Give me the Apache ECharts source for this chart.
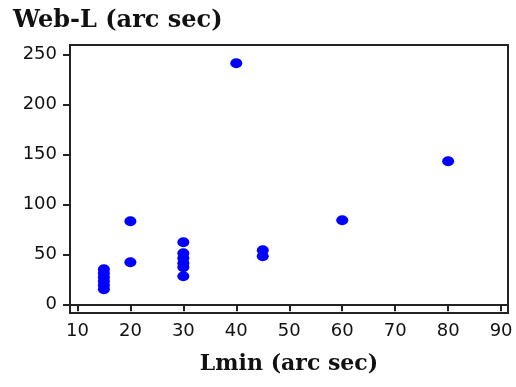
<!DOCTYPE html>
<html>
<head>
<meta charset="utf-8">
<script src="https://cdn.jsdelivr.net/npm/echarts@6/dist/echarts.min.js"></script>
<style>
html,body{margin:0;padding:0;background:#fff;}
#chart{width:516px;height:387px;}
</style>
</head>
<body>
<div id="chart"></div>
<script>
// Data
var lminValues = [15, 15, 15, 15, 15, 15, 20, 20, 30, 30, 30, 30, 30, 30, 40, 45, 45, 60, 80];
var webLValues = [35, 31, 27, 23, 19, 15, 83, 42, 62, 51, 46, 41, 37, 28, 241, 54, 48, 84, 143];
var xTicks = [10, 20, 30, 40, 50, 60, 70, 80, 90];
var yTicks = [0, 50, 100, 150, 200, 250];
var xTitle = 'Lmin (arc sec)';
var yTitle = 'Web-L (arc sec)';

var points = lminValues.map(function (x, i) { return [x, webLValues[i]]; });

var chart = echarts.init(document.getElementById('chart'), null, {renderer: 'canvas'});
chart.setOption({
  backgroundColor: '#ffffff',
  animation: false,
  title: {
    text: yTitle,
    left: 8,
    top: 4,
    textStyle: {fontFamily: 'DejaVu Serif', fontWeight: 'bold', fontSize: 24, color: '#111'}
  },
  grid: {
    left: 70, right: 8, top: 45, bottom: 74,
    show: true, borderColor: '#222', borderWidth: 2, backgroundColor: 'transparent'
  },
  xAxis: {
    type: 'value',
    min: 8.6, max: 91.3,
    name: xTitle,
    nameLocation: 'middle',
    nameGap: 40,
    nameTextStyle: {fontFamily: 'DejaVu Serif', fontWeight: 'bold', fontSize: 22, color: '#111'},
    axisLine: {show: true, lineStyle: {color: '#222', width: 2}},
    axisTick: {show: true, inside: false, length: 7, lineStyle: {color: '#222', width: 2}, customValues: xTicks},
    axisLabel: {margin: 9, fontFamily: 'DejaVu Sans', fontSize: 18, color: '#111', customValues: xTicks},
    splitLine: {show: false}
  },
  yAxis: {
    type: 'value',
    min: -8.7, max: 259.3,
    axisLine: {show: true, lineStyle: {color: '#222', width: 2}},
    axisTick: {show: true, inside: false, length: 7, lineStyle: {color: '#222', width: 2}, customValues: yTicks},
    axisLabel: {margin: 13, fontFamily: 'DejaVu Sans', fontSize: 18, color: '#111', customValues: yTicks},
    splitLine: {show: false}
  },
  series: [{
    type: 'scatter',
    data: points,
    symbol: 'circle',
    symbolSize: [12, 10],
    itemStyle: {color: '#0000ff', opacity: 1}
  }]
});
</script>
</body>
</html>
